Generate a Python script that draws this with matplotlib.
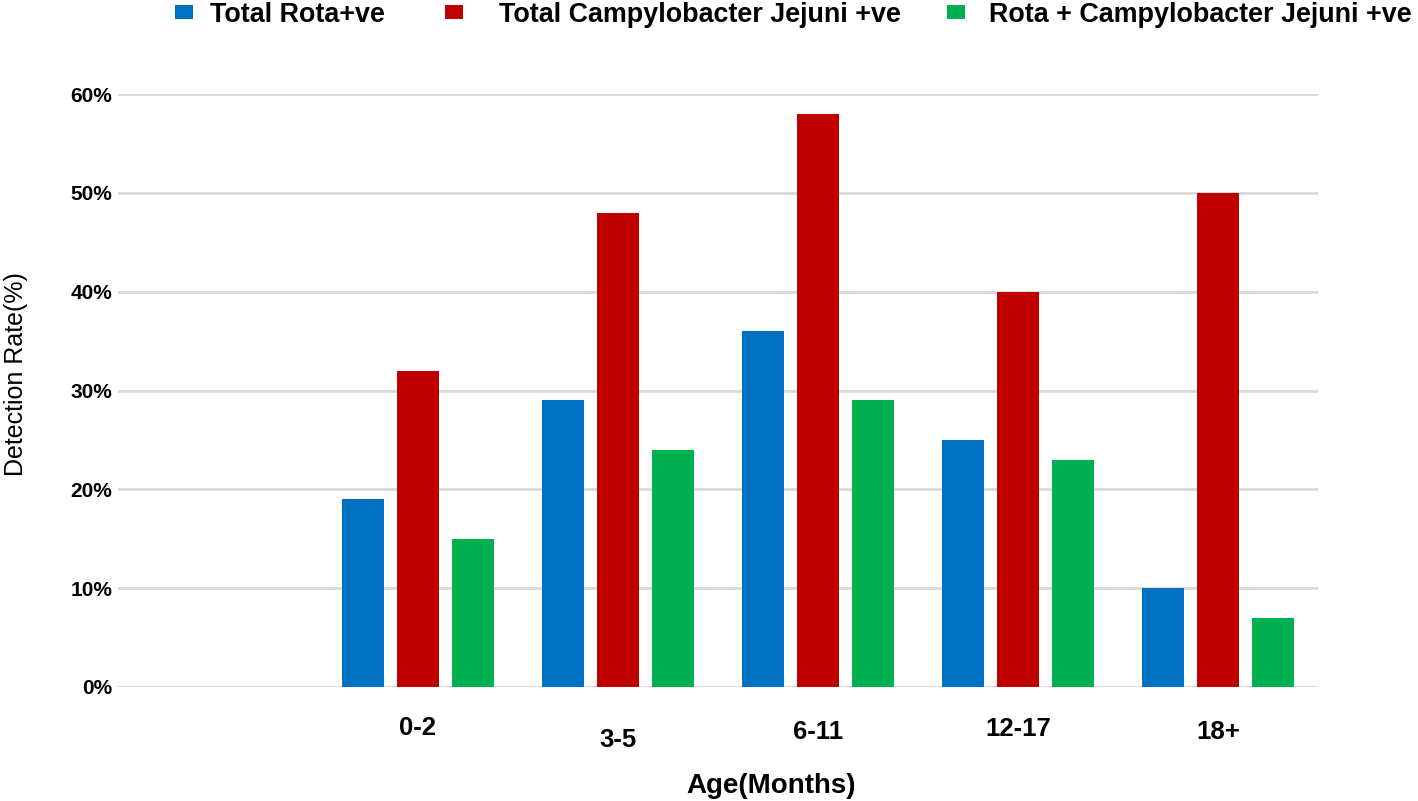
import matplotlib
matplotlib.use("Agg")
import matplotlib.pyplot as plt
import matplotlib.transforms as mtransforms
from matplotlib.patches import Patch
import numpy as np

categories = ["0-2", "3-5", "6-11", "12-17", "18+"]
rota = [19, 29, 36, 25, 10]
campy = [32, 48, 58, 40, 50]
both = [15, 24, 29, 23, 7]
series_names = ["Total Rota+ve", "Total Campylobacter Jejuni +ve", "Rota + Campylobacter Jejuni +ve"]
colors = ["#0070c0", "#c00000", "#00b050"]

W, H = 1418, 801
fig = plt.figure(figsize=(W / 100, H / 100), dpi=100)
ax = fig.add_axes([118 / W, 114 / H, 1200 / W, (687 - 94) / H])

x = np.arange(1, len(categories) + 1)
bw = 0.21
off = 0.275
for i, (vals, c) in enumerate(zip([rota, campy, both], colors)):
    ax.bar(x + (i - 1) * off, vals, width=bw, color=c, zorder=3)

ax.set_xlim(-0.5, 5.5)
ax.set_ylim(0, 60)
ax.set_yticks(np.arange(0, 61, 10))
ax.set_yticklabels([f"{v}%" for v in range(0, 61, 10)], fontsize=15, fontweight="bold",
                   family=["Liberation Sans", "DejaVu Sans"])
ax.grid(axis="y", color="#d9d9d9", linewidth=2, zorder=0)
for s in ax.spines.values():
    s.set_visible(False)
ax.tick_params(axis="both", length=0)
ax.tick_params(axis="y", pad=4)
ax.set_xticks(x)
ax.set_xticklabels(categories, fontsize=18.5, fontweight="bold",
                   family=["Liberation Sans Narrow", "Liberation Sans"])
ax.tick_params(axis="x", pad=24)
dys = [0.04, -0.08, 0.0, 0.03, 0.0]
for lab, dy in zip(ax.get_xticklabels(), dys):
    lab.set_transform(lab.get_transform() + mtransforms.ScaledTranslation(0, dy, fig.dpi_scale_trans))

ax.set_xlabel("Age(Months)", fontsize=20, fontweight="bold",
              family=["Liberation Sans Narrow", "Liberation Sans"], va="center")
ax.xaxis.set_label_coords((771 - 118) / 1200, -(786 - 687) / 593)
ax.set_ylabel("Detection Rate(%)", fontsize=18, fontweight="normal",
              family=["Liberation Sans", "DejaVu Sans"])
ax.yaxis.set_label_coords(-(118 - 28) / 1200, (687 - 374) / 593)

fs = 19.4
em = fs * 100 / 72
square_x = [175, 445, 947]
text_gap = [17, 36, 24]
for name, c, sx, gap in zip(series_names, colors, square_x, text_gap):
    fig.legend([Patch(facecolor=c)], [name], loc="upper left",
               bbox_to_anchor=((sx - 0.4 * em) / W, 1.0 + 9 / H),
               frameon=False, handlelength=0.65, handleheight=0.45,
               handletextpad=gap / em, borderaxespad=0.0,
               prop={"family": ["Liberation Sans", "DejaVu Sans"], "weight": "bold", "size": fs})

fig.savefig("out.png", dpi=100)
